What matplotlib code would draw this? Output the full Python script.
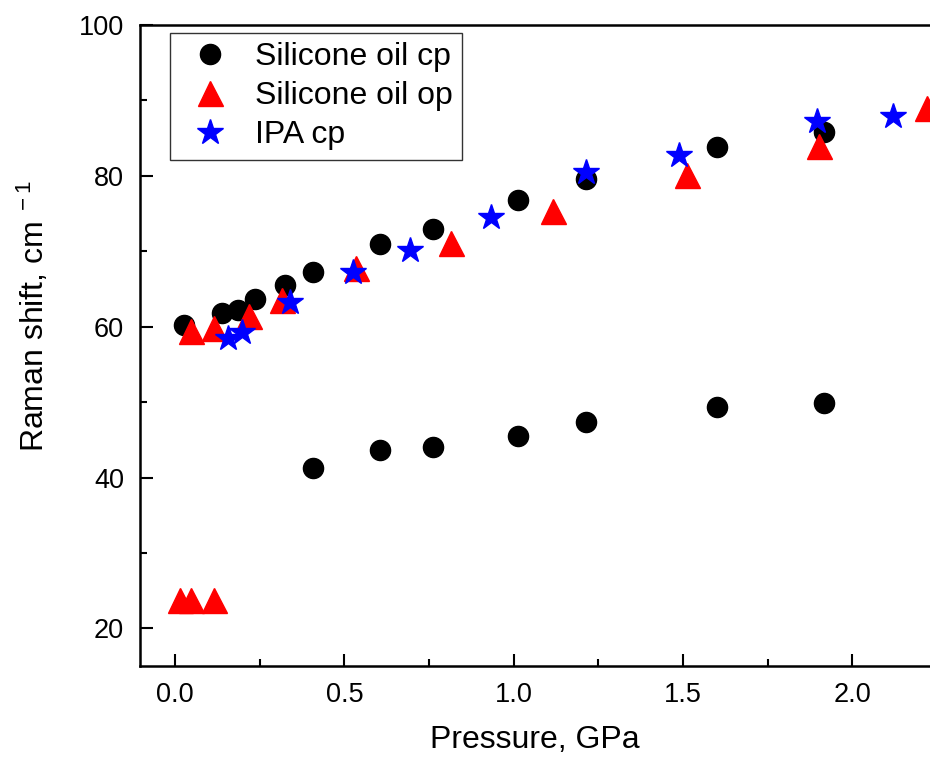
import matplotlib.pyplot as plt
from matplotlib.ticker import MultipleLocator

plt.rcParams['font.family'] = ['Liberation Sans', 'DejaVu Sans']
plt.rcParams['mathtext.fontset'] = 'custom'
plt.rcParams['mathtext.rm'] = 'Liberation Sans'
plt.rcParams['mathtext.it'] = 'Liberation Sans'

# Silicone oil cp (upper and lower branches)
oil_cp_p = [0.027, 0.139, 0.186, 0.237, 0.325, 0.408, 0.604, 0.763, 1.012, 1.213, 1.600, 1.917,
            0.408, 0.604, 0.763, 1.012, 1.213, 1.600, 1.917]
oil_cp_shift = [60.2, 61.8, 62.2, 63.7, 65.5, 67.2, 71.0, 72.9, 76.8, 79.6, 83.8, 85.8,
                41.2, 43.6, 44.0, 45.5, 47.3, 49.3, 49.9]

# Silicone oil op
oil_op_p = [0.047, 0.115, 0.219, 0.317, 0.533, 0.814, 1.115, 1.512, 1.902, 2.220,
            0.015, 0.047, 0.115]
oil_op_shift = [59.4, 59.8, 61.4, 63.5, 67.8, 71.1, 75.3, 80.1, 84.0, 89.0,
                23.8, 23.8, 23.8]

# IPA cp
ipa_p = [0.157, 0.198, 0.340, 0.524, 0.695, 0.932, 1.213, 1.488, 1.896, 2.120]
ipa_shift = [58.5, 59.3, 63.3, 67.2, 70.2, 74.5, 80.5, 82.8, 87.3, 87.9]

fig = plt.figure(figsize=(9.3, 7.59), dpi=100)
ax = fig.add_axes([0.1505, 0.1225, 0.8495, 0.8445])

ax.plot(oil_cp_p, oil_cp_shift, 'o', color='black', markersize=14.5, linestyle='none',
        label='Silicone oil cp')
ax.plot(oil_op_p, oil_op_shift, '^', color='red', markersize=18, linestyle='none',
        label='Silicone oil op')
ax.plot(ipa_p, ipa_shift, '*', color='blue', markersize=19, linestyle='none',
        label='IPA cp')

ax.set_xlim(-0.104, 2.23)
ax.set_ylim(15, 100)
ax.xaxis.set_major_locator(MultipleLocator(0.5))
ax.xaxis.set_minor_locator(MultipleLocator(0.25))
ax.yaxis.set_major_locator(MultipleLocator(20))
ax.yaxis.set_minor_locator(MultipleLocator(10))
ax.xaxis.set_major_formatter(plt.FormatStrFormatter('%.1f'))

ax.tick_params(which='major', direction='in', length=9, width=1.5, labelsize=19.5, pad=11.5)
ax.tick_params(which='minor', direction='in', length=5, width=1.5)
ax.tick_params(top=False, right=False)
for side in ['left', 'bottom', 'top']:
    ax.spines[side].set_linewidth(1.8)
ax.spines['right'].set_visible(False)

ax.set_xlabel('Pressure, GPa', fontsize=23, labelpad=12)
ax.set_ylabel('Raman shift, cm$^{\\ -1}$', fontsize=23)
ax.yaxis.set_label_coords(-0.113, 0.545)

leg = ax.legend(loc='upper left', bbox_to_anchor=(0.038, 0.988), fontsize=23, frameon=True,
                fancybox=False, edgecolor='black', handletextpad=0.45, borderpad=0.3,
                borderaxespad=0, labelspacing=0.28, handlelength=1.9)
leg.get_frame().set_linewidth(1.0)

fig.savefig('out.png', dpi=100)
